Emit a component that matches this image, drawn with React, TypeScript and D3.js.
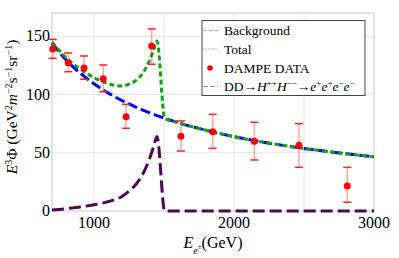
import React from "react";
import * as d3 from "d3";

// curve samples
const curveEnergy = [700, 800, 900, 1000, 1100, 1200, 1250, 1300, 1350, 1400, 1425, 1450, 1505, 1600, 1800, 2000, 2200, 2400, 2600, 2800, 3000];
const backgroundFlux = [144, 129.8, 118.5, 109.2, 101.4, 94.8, 92, 89.1, 86.6, 84.2, 83, 81.9, 79.6, 75.9, 69.3, 63.8, 59.3, 55.4, 52.1, 49.2, 46.5];
const ddFlux = [0.9, 2, 3.5, 5.3, 8, 12.5, 17, 23, 32, 46, 55, 64, 0, 0, 0, 0, 0, 0, 0, 0, 0];

// DAMPE points
const dampeEnergy = [705, 816, 929, 1066, 1229, 1412, 1621, 1848, 2145, 2464, 2809];
const dampeFlux = [139.1, 127.3, 122.8, 113.6, 81, 141.7, 64.1, 68.1, 59.8, 56.4, 21.5];
const dampeHigh = [147.4, 135.7, 133.1, 125.4, 91.6, 156.3, 77.3, 83, 76.2, 75, 37.5];
const dampeLow = [131.1, 119.6, 113.1, 102.4, 71, 126, 51.5, 53.8, 43.8, 37.5, 7.5];

const xTicks = [1000, 2000, 3000];
const xGrid = [1000, 1500, 2000, 2500];
const yTicks = [0, 50, 100, 150];

const W = 399, H = 258;
const m = { left: 52, right: 25, top: 13, bottom: 47 };

export default function App() {
  const x = d3.scaleLinear().domain([700, 3000]).range([m.left, W - m.right]);
  const y = d3.scaleLinear().domain([0, 170]).range([H - m.bottom, m.top]);

  const bg = curveEnergy.map((e, i) => [e, backgroundFlux[i]] as [number, number]);
  const dd = curveEnergy.map((e, i) => [e, ddFlux[i]] as [number, number]);
  const total = curveEnergy.map((e, i) => [e, backgroundFlux[i] + ddFlux[i]] as [number, number]);

  const line = d3.line<[number, number]>().x(d => x(d[0])).y(d => y(d[1])).curve(d3.curveMonotoneX);
  const font = "'Liberation Serif', 'Times New Roman', serif";
  const [x0, x1] = x.range();
  const [y0, y1] = y.range();
  const sup = 9;

  return (
    <svg width={W} height={H} style={{ position: "absolute", left: 0, top: 0, background: "white" }} fontFamily={font}>
      {xGrid.map(t => <line key={"gx" + t} x1={x(t)} x2={x(t)} y1={y0} y2={y1} stroke="#e3e3e3" strokeWidth={1} />)}
      {yTicks.slice(1).map(t => <line key={"gy" + t} x1={x0} x2={x1} y1={y(t)} y2={y(t)} stroke="#e3e3e3" strokeWidth={1} />)}
      <rect x={x0} y={y1} width={x1 - x0} height={y0 - y1} fill="none" stroke="#c8c8c8" strokeWidth={1} />

      {xTicks.map(t => <text key={"tx" + t} x={x(t)} y={228} textAnchor="middle" fontSize={16}>{t}</text>)}
      {yTicks.map(t => <text key={"ty" + t} x={x0 - 2} y={y(t) + 5} textAnchor="end" fontSize={16}>{t}</text>)}

      <path d={line(bg) || ""} fill="none" stroke="#0000ff" strokeWidth={3} strokeDasharray="10,4" />
      <path d={line(total) || ""} fill="none" stroke="#16a016" strokeWidth={3} strokeDasharray="5,3" />
      <path d={line(dd) || ""} fill="none" stroke="#4a0a4e" strokeWidth={3} strokeDasharray="12,5" />

      {dampeEnergy.map((e, i) => (
        <g key={"p" + i}>
          <line x1={x(e)} x2={x(e)} y1={y(dampeHigh[i])} y2={y(dampeLow[i])} stroke="rgba(255,0,0,0.35)" strokeWidth={1.5} />
          <line x1={x(e) - 4} x2={x(e) + 4} y1={y(dampeHigh[i])} y2={y(dampeHigh[i])} stroke="#ff2020" strokeWidth={1.5} />
          <line x1={x(e) - 4} x2={x(e) + 4} y1={y(dampeLow[i])} y2={y(dampeLow[i])} stroke="#ff2020" strokeWidth={1.5} />
          <circle cx={x(e)} cy={y(dampeFlux[i])} r={3.5} fill="#ff0000" />
        </g>
      ))}

      <g>
        <rect x={202} y={20.5} width={163} height={75} fill="white" stroke="#444" strokeWidth={1} />
        <line x1={203} x2={218} y1={30.5} y2={30.5} stroke="#9c9cff" strokeWidth={1.2} strokeDasharray="4,2" />
        <text x={224} y={35} fontSize={13.5}>Background</text>
        <line x1={203} x2={218} y1={49} y2={49} stroke="#7fc87f" strokeWidth={1} strokeDasharray="1.5,1" />
        <text x={224} y={53.5} fontSize={13.5}>Total</text>
        <circle cx={210} cy={68} r={2.8} fill="#ff0000" />
        <text x={224} y={72.5} fontSize={13.5}>DAMPE DATA</text>
        <line x1={203} x2={218} y1={86.5} y2={86.5} stroke="#a488a8" strokeWidth={1.2} strokeDasharray="5,2" />
        <text x={224} y={91} fontSize={13.5}>
          DD→<tspan fontStyle="italic">H</tspan><tspan baselineShift="super" fontSize={sup}>++</tspan>
          <tspan fontStyle="italic">H</tspan><tspan baselineShift="super" fontSize={sup}>−−</tspan>→
          <tspan fontStyle="italic">e</tspan><tspan baselineShift="super" fontSize={sup}>+</tspan>
          <tspan fontStyle="italic">e</tspan><tspan baselineShift="super" fontSize={sup}>+</tspan>
          <tspan fontStyle="italic">e</tspan><tspan baselineShift="super" fontSize={sup}>−</tspan>
          <tspan fontStyle="italic">e</tspan><tspan baselineShift="super" fontSize={sup}>−</tspan>
        </text>
      </g>

      <text x={(x0 + x1) / 2} y={248} textAnchor="middle" fontSize={16}>
        <tspan fontStyle="italic">E</tspan><tspan baselineShift="sub" fontSize={10} fontStyle="italic">e</tspan><tspan baselineShift="-1" fontSize={7}>±</tspan>(GeV)
      </text>
      <text transform={`translate(17,${(y0 + y1) / 2 - 5}) rotate(-90)`} textAnchor="middle" fontSize={15.5}>
        <tspan fontStyle="italic">E</tspan><tspan baselineShift="super" fontSize={10}>3</tspan>Φ (GeV<tspan baselineShift="super" fontSize={10}>2</tspan>
        <tspan fontStyle="italic">m</tspan><tspan baselineShift="super" fontSize={10}>−2</tspan>s<tspan baselineShift="super" fontSize={10}>−1</tspan>sr<tspan baselineShift="super" fontSize={10}>−1</tspan>)
      </text>
    </svg>
  );
}
